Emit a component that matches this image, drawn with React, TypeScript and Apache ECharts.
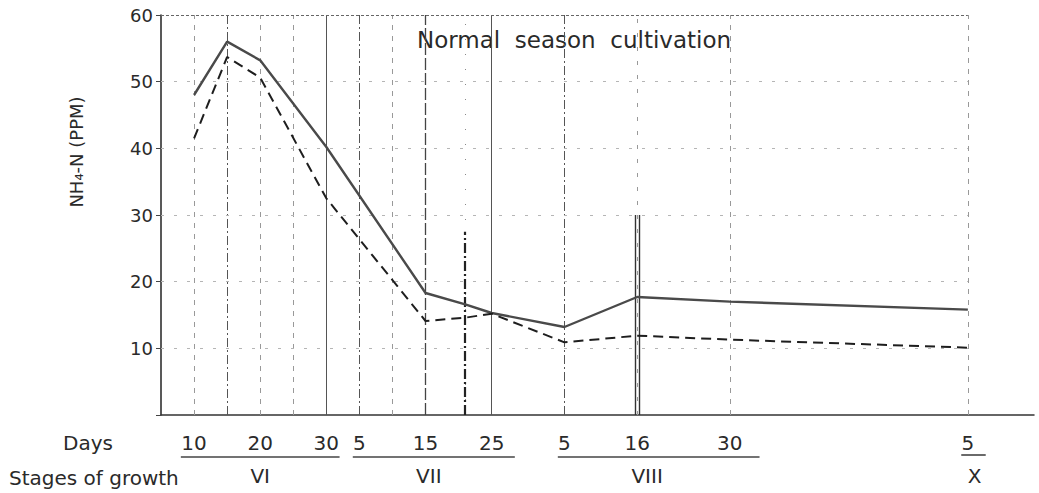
import React, { useEffect, useRef } from "react";
import * as echarts from "echarts";

// x values: days counted from 1 June
const sampleDays = [10, 15, 20, 30, 45, 51, 55, 66, 77, 91, 127];
const solidValues = [48, 56, 53.2, 40.2, 18.3, 16.6, 15.3, 13.2, 17.7, 17.0, 15.8];
const dashedValues = [41.5, 53.7, 50.6, 32.5, 14.1, 14.6, 15.2, 10.9, 11.9, 11.3, 10.1];

const dayTickValues = [10, 20, 30, 35, 45, 55, 66, 77, 91, 127];
const dayTickLabels = ["10", "20", "30", "5", "15", "25", "5", "16", "30", "5"];

const stageNames = ["VI", "VII", "VIII", "X"];
const stageCenters = [20, 45.5, 78.5, 128];
const stageStarts = [8, 34, 65, 126];
const stageEnds = [32, 58.5, 95.5, 129.7];

const yTickValues = [10, 20, 30, 40, 50, 60];
const gridDays = [10, 15, 20, 25, 30, 35, 40, 45, 51, 55, 66, 77, 91, 127];

const FONT = "DejaVu Sans";
const INK = "#2a2a2a";

export default function App() {
  const ref = useRef<HTMLDivElement>(null);
  useEffect(() => {
    const chart = echarts.init(ref.current!, null, { renderer: "svg" });

    const styleFor = (d: number) => {
      switch (d) {
        case 15:
        case 35:
        case 66:
          return { type: [9, 3, 2, 3], color: "#555", width: 1 };
        case 30:
        case 55:
          return { type: "solid", color: "#555", width: 1 };
        case 45:
          return { type: [12, 3], color: "#444", width: 1.3 };
        case 51:
          return { type: [1, 14], color: "#888", width: 1 };
        case 77:
          return { type: [4, 10], color: "#999", width: 1 };
        default:
          return { type: [5, 6], color: "#999", width: 1 };
      }
    };

    const markData: any[] = [];
    gridDays.forEach((d) => {
      markData.push([
        { coord: [d, 0], lineStyle: styleFor(d) },
        { coord: [d, 60] },
      ]);
    });
    // bold dash-dot segment (21 July)
    markData.push([
      { coord: [51, 0], lineStyle: { type: [10, 3, 2, 3], color: "#222", width: 2.2 } },
      { coord: [51, 27.5] },
    ]);
    // double line (16 August)
    [76.7, 77.3].forEach((d) =>
      markData.push([
        { coord: [d, 0], lineStyle: { type: "solid", color: "#333", width: 1.4 } },
        { coord: [d, 30] },
      ])
    );
    // horizontal grid
    yTickValues.forEach((v) =>
      markData.push([
        {
          coord: [5, v],
          lineStyle:
            v === 60
              ? { type: [3, 2], color: "#666", width: 1.2 }
              : { type: [3, 10], color: "#b5b5b5", width: 1 },
        },
        { coord: [127, v] },
      ])
    );

    const option: any = {
      animation: false,
      backgroundColor: "#fff",
      grid: { left: 161, right: 5, top: 15, bottom: 78, containLabel: false },
      xAxis: [
        {
          type: "value",
          min: 5,
          max: 137,
          axisLine: { show: true, lineStyle: { color: "#333", width: 1.5 } },
          axisTick: { show: false },
          splitLine: { show: false },
          axisLabel: {
            customValues: dayTickValues,
            formatter: (v: number) => {
              const i = dayTickValues.indexOf(v);
              return i >= 0 ? dayTickLabels[i] : "";
            },
            margin: 18,
            fontSize: 20,
            fontFamily: FONT,
            color: INK,
          },
        },
        {
          type: "value",
          min: 5,
          max: 137,
          position: "bottom",
          axisLine: { show: false },
          axisTick: { show: false },
          splitLine: { show: false },
          axisLabel: {
            customValues: stageCenters,
            formatter: (v: number) => {
              const i = stageCenters.indexOf(v);
              return i >= 0 ? stageNames[i] : "";
            },
            margin: 51,
            fontSize: 20,
            fontFamily: FONT,
            color: INK,
          },
        },
      ],
      yAxis: {
        type: "value",
        min: 0,
        max: 60,
        interval: 10,
        axisLine: { show: true, lineStyle: { color: "#222", width: 1.5 } },
        axisTick: { show: true, length: 5, lineStyle: { color: "#444" } },
        splitLine: { show: false },
        axisLabel: {
          formatter: (v: number) => (v === 0 ? "" : String(v)),
          margin: 8,
          fontSize: 18,
          fontFamily: FONT,
          color: INK,
        },
      },
      series: [
        {
          name: "solid",
          type: "line",
          data: sampleDays.map((d, i) => [d, solidValues[i]]),
          symbol: "none",
          lineStyle: { color: "#4a4a4a", width: 2.4, type: "solid" },
          markLine: {
            silent: true,
            symbol: ["none", "none"],
            label: { show: false },
            data: markData,
            z: 1,
          },
          z: 5,
        },
        {
          name: "dashed",
          type: "line",
          data: sampleDays.map((d, i) => [d, dashedValues[i]]),
          symbol: "none",
          lineStyle: { color: "#1e1e1e", width: 2, type: [10, 6] },
          z: 5,
        },
      ],
    };
    chart.setOption(option);

    const px = (d: number) => chart.convertToPixel({ xAxisIndex: 0 }, d) as number;
    const underlines = stageStarts.map((s, i) => ({
      type: "line",
      silent: true,
      shape: { x1: px(s), y1: i === 3 ? 455 : 457, x2: px(stageEnds[i]), y2: i === 3 ? 455 : 457 },
      style: { stroke: "#444", lineWidth: 1.6 },
    }));
    chart.setOption({
      graphic: [
        {
          type: "text",
          left: 417,
          top: 28,
          style: {
            text: "Normal  season  cultivation",
            font: `23px "${FONT}"`,
            fill: INK,
          },
        },
        {
          type: "text",
          x: 76,
          y: 152,
          rotation: Math.PI / 2,
          style: {
            text: "NH₄-N (PPM)",
            font: `18px "${FONT}"`,
            fill: INK,
            align: "center",
            verticalAlign: "middle",
          },
        },
        {
          type: "text",
          x: 63,
          y: 443,
          style: { text: "Days", font: `20px "${FONT}"`, fill: INK, verticalAlign: "middle" },
        },
        {
          type: "text",
          x: 9,
          y: 478,
          style: {
            text: "Stages of growth",
            font: `20px "${FONT}"`,
            fill: INK,
            verticalAlign: "middle",
          },
        },
        ...underlines,
      ],
    });

    return () => chart.dispose();
  }, []);
  return (
    <div
      ref={ref}
      style={{ position: "fixed", left: 0, top: 0, width: 1039, height: 493, background: "#fff" }}
    />
  );
}
